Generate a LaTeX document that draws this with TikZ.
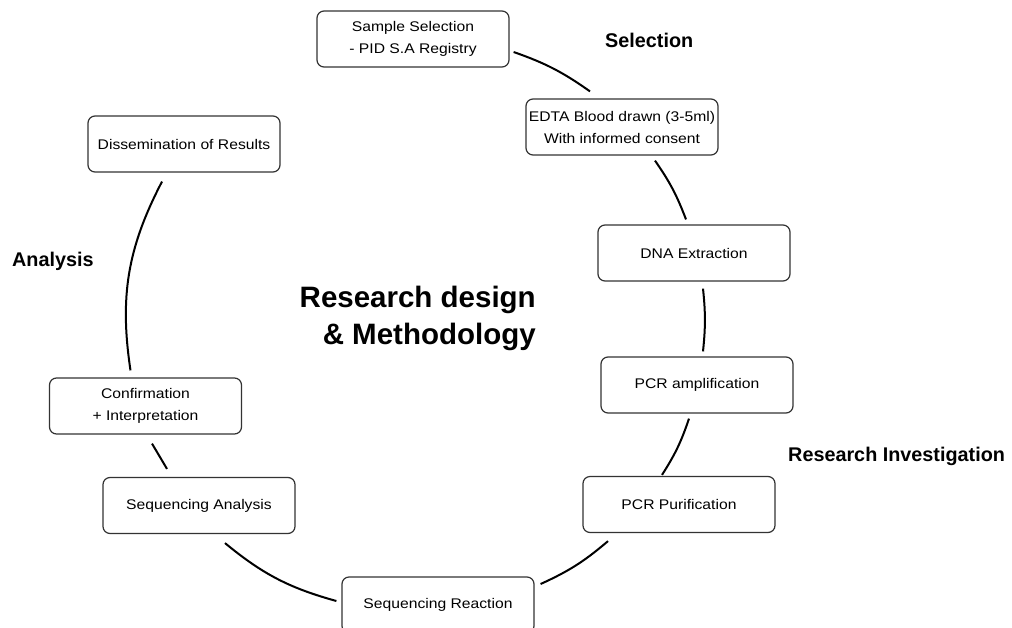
\documentclass[tikz,border=0pt]{standalone}
\usepackage{fontspec}
\setmainfont{Liberation Sans}
\newfontfamily\boxfont{Liberation Sans}[FakeStretch=1.12]
\begin{document}
\begin{tikzpicture}[x=1pt,y=-1pt,
  box/.style={draw=black!80, line width=1.2pt, rounded corners=7pt,
    minimum width=192pt, minimum height=56pt, align=center, inner sep=2pt,
    font=\boxfont\fontsize{14}{22}\selectfont},
  link/.style={line width=2pt, black},
  lab/.style={font=\bfseries\fontsize{19.8}{23}\selectfont, anchor=base west, inner sep=0pt},
  ttl/.style={font=\bfseries\fontsize{29.5}{37}\selectfont, anchor=base east, inner sep=0pt}]
\useasboundingbox (0,0) rectangle (1012,627);
\fill[white] (0,0) rectangle (1012,627);

\node[box] (s1) at (413,39) {Sample Selection\\- PID S.A Registry};
\node[box] (s2) at (622,127) {EDTA Blood drawn (3-5ml)\\With informed consent};
\node[box] (s3) at (694,253) {DNA Extraction};
\node[box] (s4) at (697,385) {PCR amplification};
\node[box] (s5) at (679,504.5) {PCR Purification};
\node[box] (s6) at (438,605) {Sequencing Reaction};
\node[box] (s7) at (199,505.5) {Sequencing Analysis};
\node[box] (s8) at (145.5,406) {Confirmation\\+ Interpretation};
\node[box] (s9) at (184,144) {Dissemination of Results};

\node[lab] (lsel) at (605,47) {Selection};
\node[lab] (lana) at (12,266) {Analysis};
\node[lab] (linv) at (788,461) {Research Investigation};
\node[ttl] (t1) at (536,307) {Research design};
\node[ttl] (t2) at (536,344) {\& Methodology};

\draw[link] ([shift={(4,13)}]s1.east) to[bend left=8] ([shift={(-32,-7)}]s2.north);
\draw[link] ([shift={(33,5)}]s2.south) to[bend left=7] ([shift={(-8,-5)}]s3.north);
\draw[link] ([shift={(9,7)}]s3.south) to[bend left=6] ([shift={(6,-5)}]s4.north);
\draw[link] ([shift={(-8,5)}]s4.south) to[bend left=7] ([shift={(-17,-1)}]s5.north);
\draw[link] ([shift={(-71,8)}]s5.south) to[bend left=8] ([shift={(6,-21)}]s6.east);
\draw[link] ([shift={(-5,-4)}]s6.west) to[bend left=12] ([shift={(26,9)}]s7.south);
\draw[link] ([shift={(-32,-8)}]s7.north) -- ([shift={(6.5,9)}]s8.south);
\draw[link] ([shift={(-15,-7)}]s8.north) to[bend left=18] ([shift={(-22,9)}]s9.south);
\end{tikzpicture}
\end{document}
